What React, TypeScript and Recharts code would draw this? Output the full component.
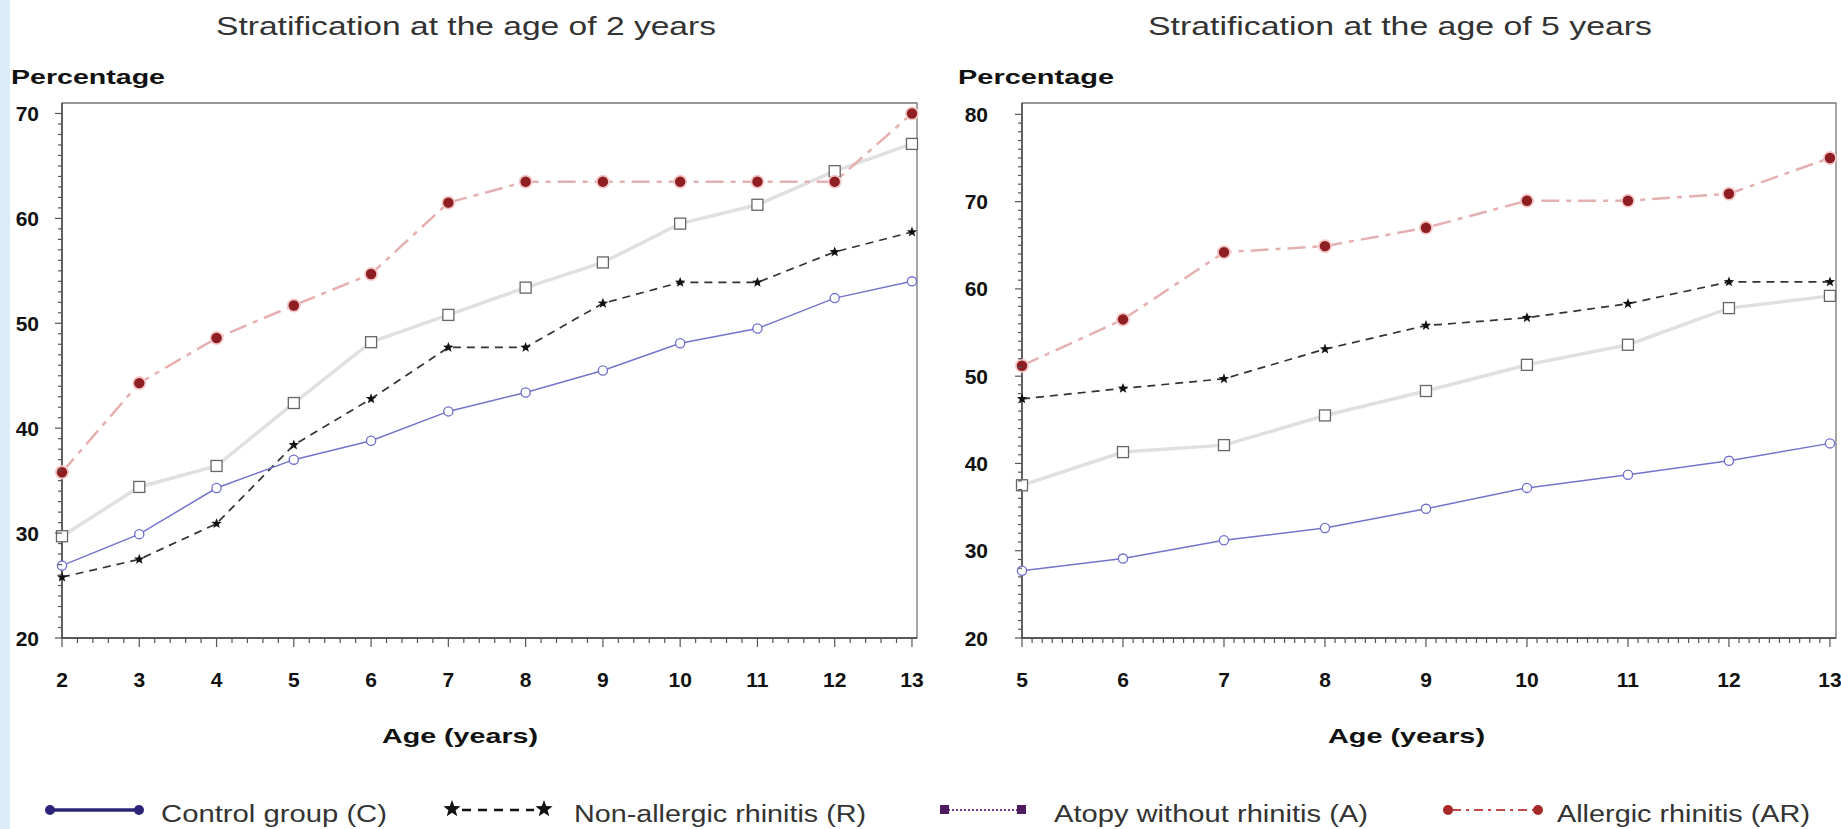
import React from "react";
import { LineChart, Line, XAxis, YAxis, ReferenceArea } from "recharts";

// stratification at the age of 2 years
const ages2 = [2, 3, 4, 5, 6, 7, 8, 9, 10, 11, 12, 13];
const control2 = [26.9, 29.9, 34.3, 37.0, 38.8, 41.6, 43.4, 45.5, 48.1, 49.5, 52.4, 54.0];
const nonAllergic2 = [25.8, 27.5, 30.9, 38.4, 42.8, 47.7, 47.7, 51.9, 53.9, 53.9, 56.8, 58.7];
const atopy2 = [29.7, 34.4, 36.4, 42.4, 48.2, 50.8, 53.4, 55.8, 59.5, 61.3, 64.5, 67.1];
const allergic2 = [35.8, 44.3, 48.6, 51.7, 54.7, 61.5, 63.5, 63.5, 63.5, 63.5, 63.5, 70.0];
const yTicks2 = [20, 30, 40, 50, 60, 70];

// stratification at the age of 5 years
const ages5 = [5, 6, 7, 8, 9, 10, 11, 12, 13];
const control5 = [27.7, 29.1, 31.2, 32.6, 34.8, 37.2, 38.7, 40.3, 42.3];
const nonAllergic5 = [47.4, 48.6, 49.7, 53.1, 55.8, 56.7, 58.3, 60.8, 60.8];
const atopy5 = [37.5, 41.3, 42.1, 45.5, 48.3, 51.3, 53.6, 57.8, 59.2];
const allergic5 = [51.2, 56.5, 64.2, 64.9, 67.0, 70.1, 70.1, 70.9, 75.0];
const yTicks5 = [20, 30, 40, 50, 60, 70, 80];

const legendNames = [
  "Control group (C)",
  "Non-allergic rhinitis (R)",
  "Atopy without rhinitis (A)",
  "Allergic rhinitis (AR)",
];

const FONT = "'Liberation Sans', Arial, sans-serif";
const X_TS = 8;
const X_TM = 26;
const Y_TS = 8;

// major ticks plus the small ruler ticks between them
const withMinor = (major: number[], step: number) => {
  const out: number[] = [];
  for (let i = 0; i < major.length - 1; i++) {
    const n = Math.round((major[i + 1] - major[i]) / step);
    for (let k = 0; k < n; k++) out.push(Math.round((major[i] + k * step) * 1000) / 1000);
  }
  out.push(major[major.length - 1]);
  return out;
};

const isMajor = (v: number, every: number) => Math.abs(v / every - Math.round(v / every)) < 1e-6;

const XTick = (props: any) => {
  const { x, y, payload } = props;
  const v = payload.value;
  const major = isMajor(v, 1);
  const axisY = y - X_TS - X_TM;
  return (
    <g>
      <line x1={x} x2={x} y1={axisY} y2={axisY + (major ? 9 : 5)} stroke="#555" strokeWidth={1.2} />
      {major && (
        <text x={x} y={y} dy="0.71em" textAnchor="middle" fontFamily={FONT} fontWeight="bold" fontSize={21} fill="#111">
          {v}
        </text>
      )}
    </g>
  );
};

const makeYTick = (margin: number) => (props: any) => {
  const { x, y, payload } = props;
  const v = payload.value;
  const major = isMajor(v, 10);
  const axisX = x + Y_TS + margin;
  return (
    <g>
      <line x1={axisX} x2={axisX - (major ? 7 : 4)} y1={y} y2={y} stroke="#555" strokeWidth={1.2} />
      {major && (
        <text x={x} y={y} dy="0.36em" textAnchor="end" fontFamily={FONT} fontWeight="bold" fontSize={21} fill="#111">
          {v}
        </text>
      )}
    </g>
  );
};

const starPath = (cx: number, cy: number, r: number) => {
  const pts: string[] = [];
  for (let i = 0; i < 10; i++) {
    const rr = i % 2 === 0 ? r : r * 0.42;
    const a = -Math.PI / 2 + (i * Math.PI) / 5;
    pts.push(`${cx + rr * Math.cos(a)},${cy + rr * Math.sin(a)}`);
  }
  return `M${pts.join("L")}Z`;
};

const CircleDot = (p: any) => (
  <circle key={p.index} cx={p.cx} cy={p.cy} r={4.6} fill="#fff" stroke="#6d6dcc" strokeWidth={1.3} />
);
const StarDot = (p: any) => <path key={p.index} d={starPath(p.cx, p.cy, 5.5)} fill="#111" />;
const SquareDot = (p: any) => (
  <rect key={p.index} x={p.cx - 5.5} y={p.cy - 5.5} width={11} height={11} fill="#fff" stroke="#666" strokeWidth={1.3} />
);
const RedDot = (p: any) => (
  <g key={p.index}>
    <circle cx={p.cx} cy={p.cy} r={7} fill="#f4c8c8" />
    <circle cx={p.cx} cy={p.cy} r={5.2} fill="#8e1e22" />
  </g>
);

type PanelProps = {
  ages: number[];
  c: number[];
  r: number[];
  a: number[];
  ar: number[];
  yTicks: number[];
  xMax: number;
  yMax: number;
  xStep: number;
  left: number;
  width: number;
  yWidth: number;
  yMargin: number;
  rightMargin: number;
};

const Panel = ({ ages, c, r, a, ar, yTicks, xMax, yMax, xStep, left, width, yWidth, yMargin, rightMargin }: PanelProps) => {
  const data = ages.map((age, i) => ({ age, C: c[i], R: r[i], A: a[i], AR: ar[i] }));
  const xTicks = withMinor(ages, xStep);
  const yAll = withMinor(yTicks, 1);
  const YTick = makeYTick(yMargin);
  return (
    <div style={{ position: "absolute", left, top: 0 }}>
      <LineChart width={width} height={829} data={data} margin={{ top: 103, right: rightMargin, bottom: 161, left: 12 }}>
        <ReferenceArea x1={ages[0]} x2={xMax} y1={yTicks[0]} y2={yMax} fill="none" stroke="#777" strokeWidth={1.3} ifOverflow="visible" />
        <XAxis
          dataKey="age"
          type="number"
          domain={[ages[0], xMax]}
          ticks={xTicks}
          interval={0}
          height={30}
          tickSize={X_TS}
          tickMargin={X_TM}
          tickLine={false}
          tick={(p: any) => <XTick {...p} key={p.index} />}
          axisLine={{ stroke: "#444", strokeWidth: 1.4 }}
        />
        <YAxis
          type="number"
          domain={[yTicks[0], yMax]}
          ticks={yAll}
          interval={0}
          width={yWidth}
          tickSize={Y_TS}
          tickMargin={yMargin}
          tickLine={false}
          tick={(p: any) => <YTick {...p} key={p.index} />}
          axisLine={{ stroke: "#444", strokeWidth: 1.4 }}
        />
        <Line dataKey="A" stroke="#e0e0e0" strokeWidth={3.5} dot={SquareDot} isAnimationActive={false} />
        <Line dataKey="AR" stroke="#e4b0b0" strokeWidth={2.5} strokeDasharray="18 7 5 7" dot={RedDot} isAnimationActive={false} />
        <Line dataKey="R" stroke="#333" strokeWidth={1.7} strokeDasharray="8 6" dot={StarDot} isAnimationActive={false} />
        <Line dataKey="C" stroke="#7474cc" strokeWidth={1.5} dot={CircleDot} isAnimationActive={false} />
      </LineChart>
    </div>
  );
};

const Txt = ({ x, y, w, size, bold, children }: any) => (
  <text x={x} y={y} textLength={w} lengthAdjust="spacingAndGlyphs" fontFamily={FONT} fontSize={size} fontWeight={bold ? "bold" : "normal"} fill={bold ? "#111" : "#333"}>
    {children}
  </text>
);

const Overlay = () => (
  <svg width={1841} height={829} style={{ position: "absolute", left: 0, top: 0, pointerEvents: "none" }}>
    <Txt x={216} y={35} w={500} size={26}>Stratification at the age of 2 years</Txt>
    <Txt x={1148} y={35} w={504} size={26}>Stratification at the age of 5 years</Txt>
    <Txt x={11} y={84} w={154} size={20} bold>Percentage</Txt>
    <Txt x={958} y={84} w={156} size={20} bold>Percentage</Txt>
    <Txt x={382} y={743} w={156} size={21} bold>Age (years)</Txt>
    <Txt x={1328} y={743} w={157} size={21} bold>Age (years)</Txt>

    {/* legend */}
    <line x1={48} x2={141} y1={810} y2={810} stroke="#2c2478" strokeWidth={3.5} />
    <circle cx={50} cy={810} r={5} fill="#2c2478" />
    <circle cx={139} cy={810} r={5} fill="#2c2478" />
    <Txt x={161} y={822} w={226} size={23}>{legendNames[0]}</Txt>

    <line x1={462} x2={534} y1={810} y2={810} stroke="#111" strokeWidth={2.5} strokeDasharray="9 7" />
    <path d={starPath(452, 809, 9)} fill="#111" />
    <path d={starPath(544, 809, 9)} fill="#111" />
    <Txt x={574} y={822} w={292} size={23}>{legendNames[1]}</Txt>

    <line x1={948} x2={1018} y1={810} y2={810} stroke="#7a3a8c" strokeWidth={2} strokeDasharray="2 2" />
    <rect x={940} y={805} width={9} height={9} fill="#4e1c5e" />
    <rect x={1017} y={805} width={9} height={9} fill="#4e1c5e" />
    <Txt x={1054} y={822} w={314} size={23}>{legendNames[2]}</Txt>

    <line x1={1452} x2={1534} y1={810} y2={810} stroke="#c24a4a" strokeWidth={2} strokeDasharray="9 5 3 5" />
    <circle cx={1448} cy={810} r={5} fill="#a82828" />
    <circle cx={1538} cy={810} r={5} fill="#a82828" />
    <Txt x={1557} y={822} w={253} size={23}>{legendNames[3]}</Txt>
  </svg>
);

export default function App() {
  return (
    <div style={{ position: "fixed", left: 0, top: 0, width: 1841, height: 829, background: "#fff", overflow: "hidden" }}>
      <div style={{ position: "absolute", left: 0, top: 0, width: 10, height: 829, background: "#dcedfa" }} />
      <Panel
        ages={ages2}
        c={control2}
        r={nonAllergic2}
        a={atopy2}
        ar={allergic2}
        yTicks={yTicks2}
        xMax={13.065}
        yMax={71}
        xStep={0.2}
        left={0}
        width={930}
        yWidth={50}
        yMargin={15}
        rightMargin={13}
      />
      <Panel
        ages={ages5}
        c={control5}
        r={nonAllergic5}
        a={atopy5}
        ar={allergic5}
        yTicks={yTicks5}
        xMax={13.06}
        yMax={81.3}
        xStep={0.1}
        left={940}
        width={901}
        yWidth={70}
        yMargin={26}
        rightMargin={5}
      />
      <Overlay />
    </div>
  );
}
